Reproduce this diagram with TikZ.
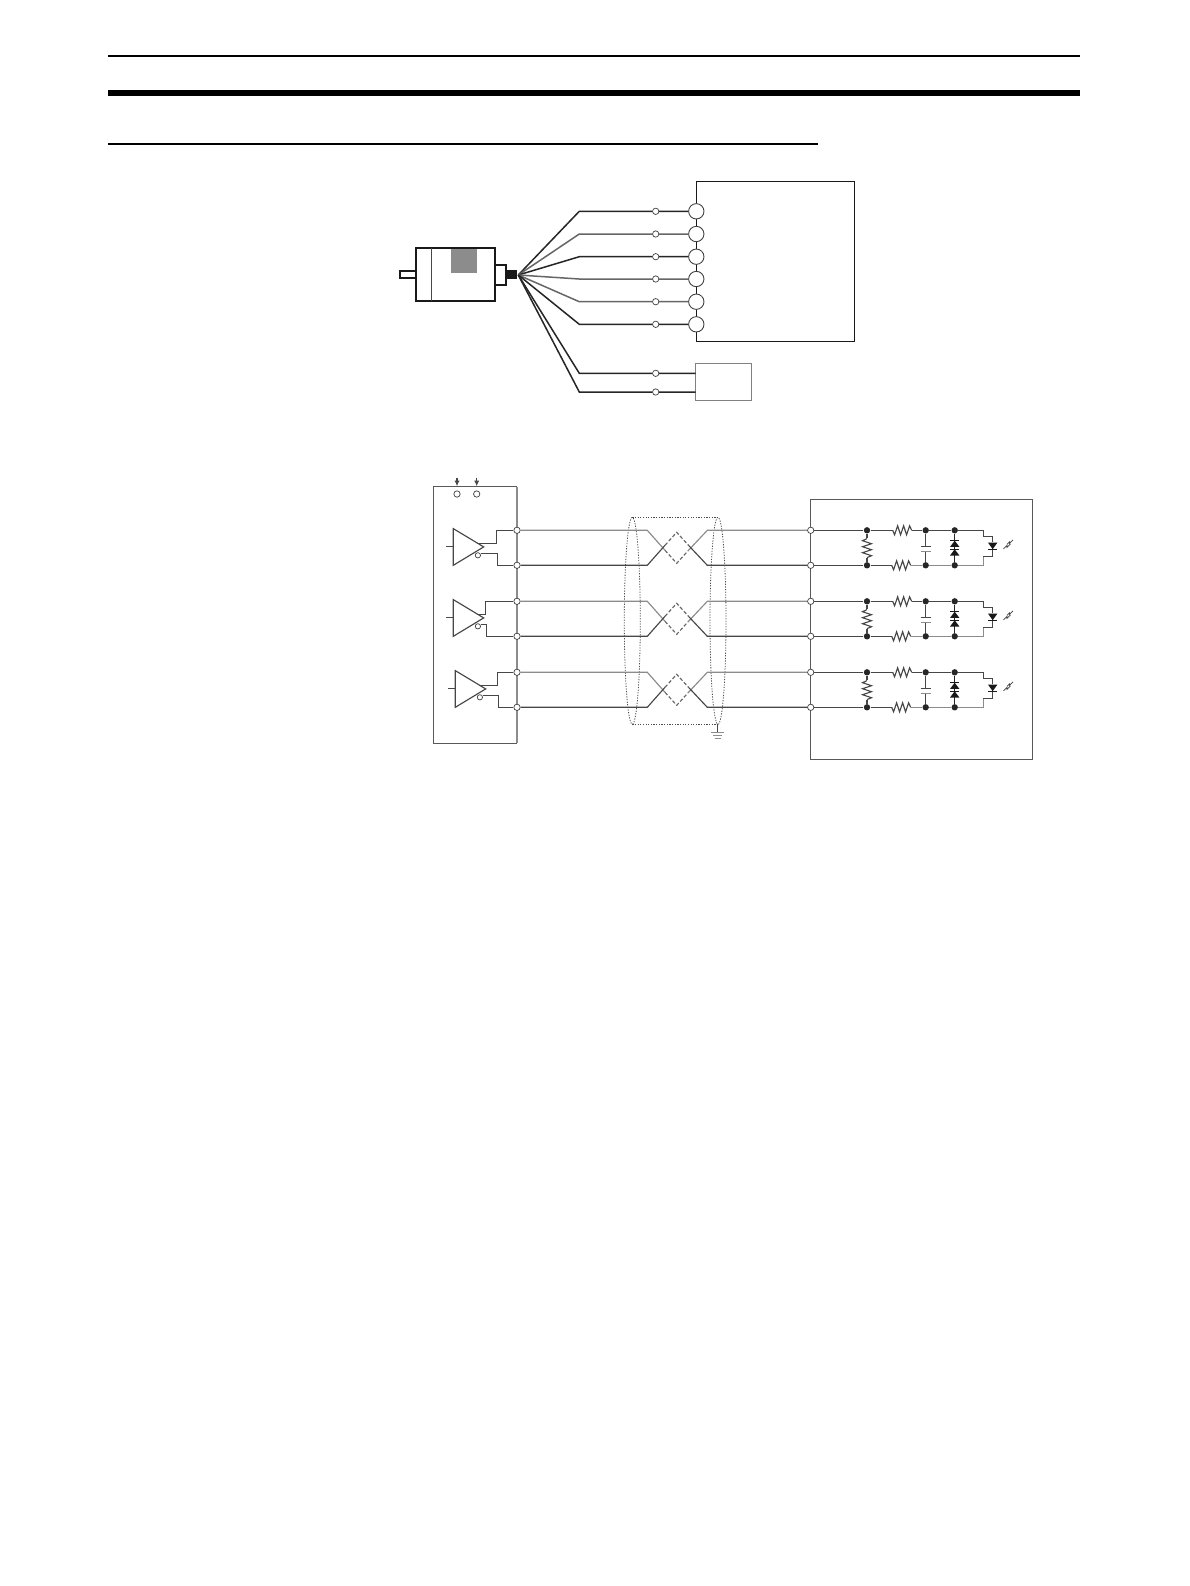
\documentclass[tikz,border=0pt]{standalone}
\usepackage{amsmath, amssymb}
\usetikzlibrary{arrows.meta}

\tikzset{
  bar/.style={black, line width=1.15pt},
  heavy/.style={black!90, line width=1.05pt},
  wire/.style={black!72, line width=0.65pt},
  lightwire/.style={black!45, line width=0.65pt},
  case/.style={black!65, line width=0.55pt},
  shield/.style={black!70, line width=0.45pt, dash pattern=on 0.7pt off 0.8pt},
  tap/.style={circle, draw=black!75, line width=0.4pt, fill=white, inner sep=0pt, minimum size=3.6pt},
  bigport/.style={circle, draw=black!75, line width=0.5pt, fill=white, inner sep=0pt, minimum size=8.7pt},
  dot/.style={circle, fill=black!85, inner sep=0pt, minimum size=3.6pt},
  zigh/.pic={
    \draw [wire] (-9.5,0) -- (-7.6,4.5) -- (-4.6,-4.5) -- (-1.6,4.5) -- (1.4,-4.5) -- (4.4,4.5) -- (7.4,-4.5) -- (9.5,0);
  },
  diode/.pic={
    \fill [black!90] (0,0) -- (-4.7,6.2) -- (4.7,6.2) -- cycle;
    \draw [black!90, line width=0.5pt] (-4.7,0) -- (4.7,0);
  },
  led/.pic={
    \fill [black!90] (0,0) -- (-4.7,-6.6) -- (4.7,-6.6) -- cycle;
    \draw [black!90, line width=0.5pt] (-4.7,0) -- (4.7,0);
  },
  flash/.pic={
    \draw [black!75, line width=0.45pt] (0,9) -- (3.5,5.5) -- (3.5,7.5) -- (7,4);
    \draw [black!75, line width=0.45pt] (3.5,4.5) -- (6,2) -- (6,3.5) -- (9.5,0);
  },
}

\begin{document}
\begin{tikzpicture}[x=0.5669pt, y=-0.5669pt, >={Latex[length=3.2pt,width=3pt]}]
  \useasboundingbox [fill=white] (0,0) rectangle (1190,1586);

  \draw [bar] (108,55.7) -- (1080,55.7);
  \fill [black] (108,90) rectangle (1080,96);
  \draw [bar] (108,144) -- (818,144);

  \draw [heavy] (415.7,247.7) rectangle (495.3,301.3);
  \draw [wire] (431.7,247.7) -- (431.7,301.3);
  \fill [black!45] (451,249) rectangle (477,273);
  \draw [heavy] (415.7,270.7) -- (399.7,270.7) -- (399.7,278.3) -- (415.7,278.3);
  \draw [heavy] (495.3,264.7) -- (505.7,264.7) -- (505.7,284.7) -- (495.3,284.7);
  \fill [black!90] (505.7,270) rectangle (517,278.7);
  \coordinate (fan) at (518.3,275);

  \draw [heavy, line width=0.8pt] (696.3,181.7) rectangle (854.3,341.3);
  \draw [black!50, line width=0.6pt] (695.7,363.7) rectangle (751.3,400.3);
  \coordinate (loada) at (695.7,373.3);
  \coordinate (loadb) at (695.7,392);

  \foreach \n/\y/\col in {1/211.3/85, 2/234/60, 3/256.7/85, 4/279/60, 5/301.7/60, 6/324.3/85} {
    \node [tap] (tap\n) at (655.7,\y) {};
    \node [bigport] (port\n) at (696.3,\y) {};
    \draw [black!\col, line width=0.85pt] (fan) -- (579.3,\y) -- (tap\n) -- (port\n);
  }
  \foreach \n/\y/\to in {7/373.3/loada, 8/392/loadb} {
    \node [tap] (tap\n) at (655.7,\y) {};
    \draw [black!85, line width=0.85pt] (fan) -- (579.3,\y) -- (tap\n) -- (\to);
  }

  \draw [case] (517,743) -- (433.7,743) -- (433.7,486.7) -- (517,486.7);
  \draw [black!45, line width=0.8pt] (517,486.7) -- (517,743);
  \draw [case] (810.7,499) rectangle (1032.3,759.3);

  \node [tap] (pwa) at (457,494) {};
  \node [tap] (pwb) at (476.7,494) {};
  \coordinate (ina) at (457,477.7);
  \coordinate (inb) at (476.7,477.7);
  \draw [->, wire, shorten >=2.4pt] (ina) -- (pwa);
  \draw [->, wire, shorten >=2.4pt] (inb) -- (pwb);

  \draw [shield] (632.3,517.3) -- (718,517.3);
  \draw [shield] (632.3,724.3) -- (718,724.3);
  \draw [shield] (632.3,620.8) ellipse [x radius=8, y radius=103.5];
  \draw [shield] (718,620.8) ellipse [x radius=8, y radius=103.5];
  \coordinate (gnd) at (717.7,732.3);
  \draw [wire] (717.7,724.3) -- (gnd);
  \draw [lightwire] (711.3,732.3) -- (724,732.3);
  \draw [lightwire] (713.3,735.5) -- (722,735.5);
  \draw [lightwire] (714.7,738.7) -- (720.7,738.7);

  \foreach \ch/\y/\tx/\ox/\ux in {a/530.3/453.3/496.3/497.3, b/601.3/453.3/485.7/486.7, c/672.3/455.3/497.3/498.3} {
    \begin{scope}[shift={(0,\y)}]
      \node [tap] (pl\ch) at (517,0) {};
      \node [tap] (ql\ch) at (517,35) {};
      \node [tap] (pr\ch) at (810.7,0) {};
      \node [tap] (qr\ch) at (810.7,35) {};

      \draw [wire] (\tx,-1.7) -- (\tx,35) -- (\tx+30.4,16.6) -- cycle;
      \draw [wire] (\tx-7.5,16.6) -- (\tx,16.6);
      \node [tap, minimum size=3pt] (nt\ch) at (\tx+24.6,25) {};
      \coordinate (oa\ch) at (\tx+23.4,13);
      \coordinate (ob\ch) at (\tx+28,23);
      \draw [wire] (oa\ch) -| (\ox,0) -- (pl\ch);
      \draw [wire] (ob\ch) -| (\ux,35) -- (ql\ch);

      \draw [lightwire] (pl\ch) -- (647.3,0) -- (665,20);
      \draw [wire] (ql\ch) -- (647.3,35) -- (665,15);
      \draw [wire, dash pattern=on 2pt off 1.2pt, black!60] (665,15) -- (676.7,2) -- (688.5,15);
      \draw [wire, dash pattern=on 2pt off 1.2pt, black!60] (665,20) -- (676.7,33) -- (688.5,20);
      \draw [lightwire] (pr\ch) -- (707.3,0) -- (688.5,20);
      \draw [wire] (qr\ch) -- (707.3,35) -- (688.5,15);

      \node [dot] (da\ch) at (867,0) {};
      \node [dot] (db\ch) at (867,35) {};
      \node [dot] (dc\ch) at (925.7,0) {};
      \node [dot] (dd\ch) at (925.7,35) {};
      \node [dot] (de\ch) at (954.7,0) {};
      \node [dot] (df\ch) at (954.7,35) {};

      \draw [wire] (pr\ch) -- (da\ch) -- (892.7,0);
      \pic at (902.2,0) {zigh};
      \draw [wire] (911.7,0) -- (dc\ch) -- (de\ch) -- (983.3,0) -- (983.3,6.5) -- (992.7,6.5) -- (992.7,12);
      \draw [wire] (qr\ch) -- (db\ch) -- (891.7,35);
      \pic at (901.2,35) {zigh};
      \draw [lightwire, line width=0.8pt] (910.7,35) -- (dd\ch) -- (df\ch) -- (983.3,35) -- (983.3,26.5);
      \draw [wire] (983.3,26.5) -- (992.7,26.5) -- (992.7,18);

      \draw [wire] (da\ch) -- (867,8);
      \pic [rotate=90] at (867,17.8) {zigh};
      \draw [wire] (867,27.3) -- (db\ch);

      \draw [wire] (dc\ch) -- (925.7,16.2);
      \draw [wire] (925.7,20.8) -- (dd\ch);
      \draw [wire] (920.5,16.2) -- (930.9,16.2);
      \draw [lightwire] (920.5,20.8) -- (930.9,20.8);

      \draw [black!85, line width=0.5pt] (de\ch) -- (df\ch);
      \pic at (954.7,10.4) {diode};
      \pic at (954.7,19) {diode};

      \pic at (992.7,18.9) {led};
      \pic at (1003.5,9.5) {flash};
    \end{scope}
  }
\end{tikzpicture}
\end{document}
